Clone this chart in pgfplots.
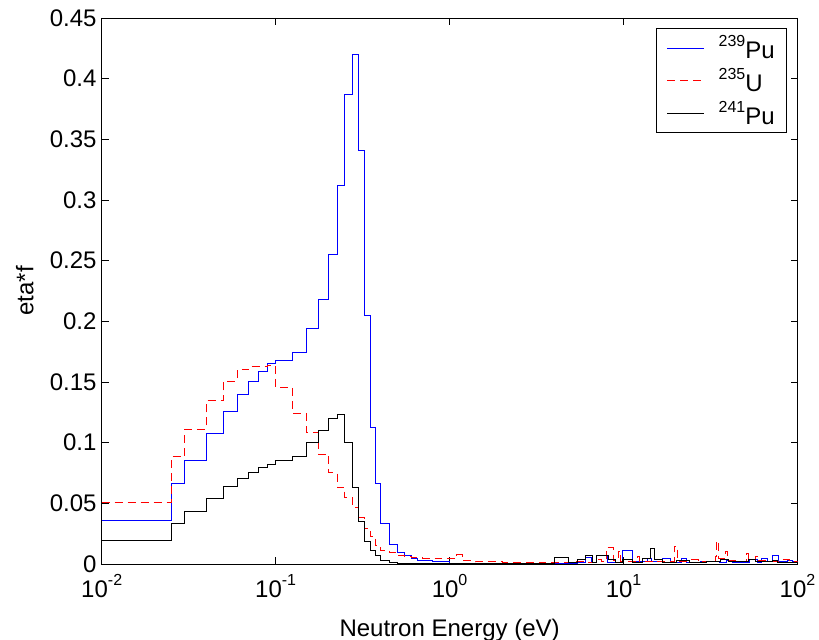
\documentclass[border=0pt]{standalone}
\usepackage{fontspec}
\setmainfont{Liberation Sans}
\usepackage{pgfplots}
\pgfplotsset{compat=1.18}
\definecolor{mblue}{RGB}{0,0,255}
\definecolor{mred}{RGB}{255,0,0}
\newcommand\sups[1]{\raisebox{0.5em}{\fontsize{16bp}{16bp}\selectfont #1}}
\begin{document}
\begin{tikzpicture}
\begin{axis}[
  at={(0,0)}, anchor=south west,
  width=695.8bp, height=546bp, scale only axis,
  xmode=log, log basis x=10,
  xmin=0.01, xmax=100, ymin=0, ymax=0.45,
  xtick={0.01,0.1,1,10,100},
  xticklabels={10\sups{-2},10\sups{-1},10\sups{0},10\sups{1},10\sups{2}},
  ytick={0,0.05,0.1,0.15,0.2,0.25,0.3,0.35,0.4,0.45},
  yticklabels={0,0.05,0.1,0.15,0.2,0.25,0.3,0.35,0.4,0.45},
  tick align=inside, major tick length=7bp, minor tick length=4bp,
  font=\fontsize{24bp}{28bp}\selectfont,
  axis line style={line width=0.8bp},
  every tick/.style={black, line width=0.8bp},
  yticklabel style={inner xsep=0pt, xshift=-5bp},
  xticklabel style={inner ysep=0pt, yshift=-10bp},
  xlabel={Neutron Energy (eV)},
  ylabel={eta*f},
  xlabel style={at={(rel axis cs:0.5,0)}, anchor=north, inner sep=0pt, yshift=-55bp},
  ylabel style={at={(rel axis cs:0,0.5)}, anchor=center, inner sep=0pt, yshift=77bp},
  legend style={at={(rel axis cs:0.985,0.981)}, anchor=north east, draw=black,
    line width=0.8bp, fill=white, inner xsep=10bp, inner ysep=5bp,
    row sep=4bp, column sep=12bp, font=\fontsize{24bp}{28bp}\selectfont},
  legend cell align=left,
  legend image code/.code={\draw[#1] (0bp,0bp) -- (37bp,0bp);},
]
\addplot[const plot, color=mblue, line width=0.8bp] coordinates {
(0.01,0.0363) (0.025,0.0665) (0.03,0.0852) (0.04,0.1077) (0.05,0.1259)
(0.06,0.1401) (0.07,0.1506) (0.08,0.1585) (0.09,0.1651) (0.1,0.1679)
(0.125,0.1745) (0.15,0.1943) (0.175,0.2182) (0.2,0.255) (0.225,0.3119)
(0.25,0.3872) (0.275,0.4199) (0.3,0.3411) (0.325,0.2050) (0.35,0.1129)
(0.375,0.0668) (0.4,0.0336) (0.45,0.0165) (0.5,0.0094) (0.55,0.0074)
(0.6,0.0045) (0.65,0.0033) (0.8,0.0019) (1.0,0.0008) (3.0,0.0005)
(5.4,0.0010) (6.0,0.0055) (6.5,0.0012) (7.0,0.0068) (8.1,0.0015)
(9.9,0.0110) (11.3,0.0020) (13.8,0.0045) (14.4,0.0020) (16.8,0.0047)
(18.5,0.0015) (21.4,0.0047) (23.1,0.0015) (27.5,0.0020) (35.8,0.0010)
(39,0.0030) (42,0.0015) (53,0.0040) (59,0.0015) (62,0.0047) (67,0.0020)
(72.2,0.0074) (77.2,0.0020) (88,0.0030) (93,0.0020) (100,0.0020)
};
\addlegendentry{\sups{239}Pu}
\addplot[const plot, color=mred, line width=0.8bp, dash pattern=on 8bp off 5bp] coordinates {
(0.01,0.0505) (0.025,0.0885) (0.03,0.1113) (0.04,0.1346) (0.05,0.1506)
(0.06,0.1600) (0.07,0.1627) (0.08,0.1627) (0.09,0.1638) (0.1,0.1457)
(0.125,0.1242) (0.15,0.1082) (0.175,0.0907) (0.2,0.0758) (0.225,0.0632)
(0.25,0.0550) (0.275,0.0467) (0.3,0.0385) (0.325,0.0294) (0.35,0.0225)
(0.375,0.0151) (0.4,0.0115) (0.45,0.0093) (0.5,0.0074) (0.55,0.0066)
(0.6,0.0055) (0.7,0.0050) (0.85,0.0045) (1.0,0.0045) (1.1,0.0077)
(1.18,0.0030) (1.4,0.0018) (2.0,0.0010) (3.3,0.0015) (4.0,0.0012)
(5.0,0.0020) (6.0,0.0015) (7.0,0.0040) (7.5,0.0020) (8.0,0.0138)
(8.7,0.0030) (9.3,0.0104) (9.6,0.0025) (12.0,0.0060) (12.3,0.0020)
(15.0,0.0025) (19.7,0.0148) (20.5,0.0025) (24,0.0035) (27,0.0020)
(33.8,0.0060) (34.2,0.0190) (35.3,0.0050) (38.5,0.0100) (39.6,0.0030)
(45,0.0025) (50.8,0.0085) (52.5,0.0035) (57,0.0065) (59,0.0030)
(70,0.0025) (80,0.0035) (90,0.0025) (100,0.0025)
};
\addlegendentry{\sups{235}U}
\addplot[const plot, color=black, line width=0.8bp] coordinates {
(0.01,0.0192) (0.025,0.0336) (0.03,0.0437) (0.04,0.0542) (0.05,0.0637)
(0.06,0.0703) (0.07,0.0758) (0.08,0.0797) (0.09,0.0824) (0.1,0.0852)
(0.125,0.0890) (0.15,0.1006) (0.175,0.1102) (0.2,0.1204) (0.225,0.1234)
(0.25,0.1000) (0.275,0.0635) (0.3,0.0349) (0.325,0.0184) (0.35,0.0110)
(0.375,0.0068) (0.4,0.0027) (0.45,0.0014) (0.5,0.0008) (4.03,0.0055)
(4.79,0.0010) (5.4,0.0039) (6.0,0.0068) (6.6,0.0015) (7.0,0.0068)
(8.2,0.0039) (9.0,0.0015) (9.9,0.0040) (11.3,0.0015) (12.9,0.0047)
(14.3,0.0128) (15.0,0.0040) (16.8,0.0015) (20,0.0030) (24,0.0015)
(30,0.0020) (36,0.0040) (40,0.0020) (52,0.0035) (57,0.0020)
(72,0.0030) (77,0.0015) (100,0.0015)
};
\addlegendentry{\sups{241}Pu}
\end{axis}
\pgfresetboundingbox
\path[use as bounding box] (-101.7bp,-76bp) rectangle (717.3bp,564bp);
\end{tikzpicture}
\end{document}
